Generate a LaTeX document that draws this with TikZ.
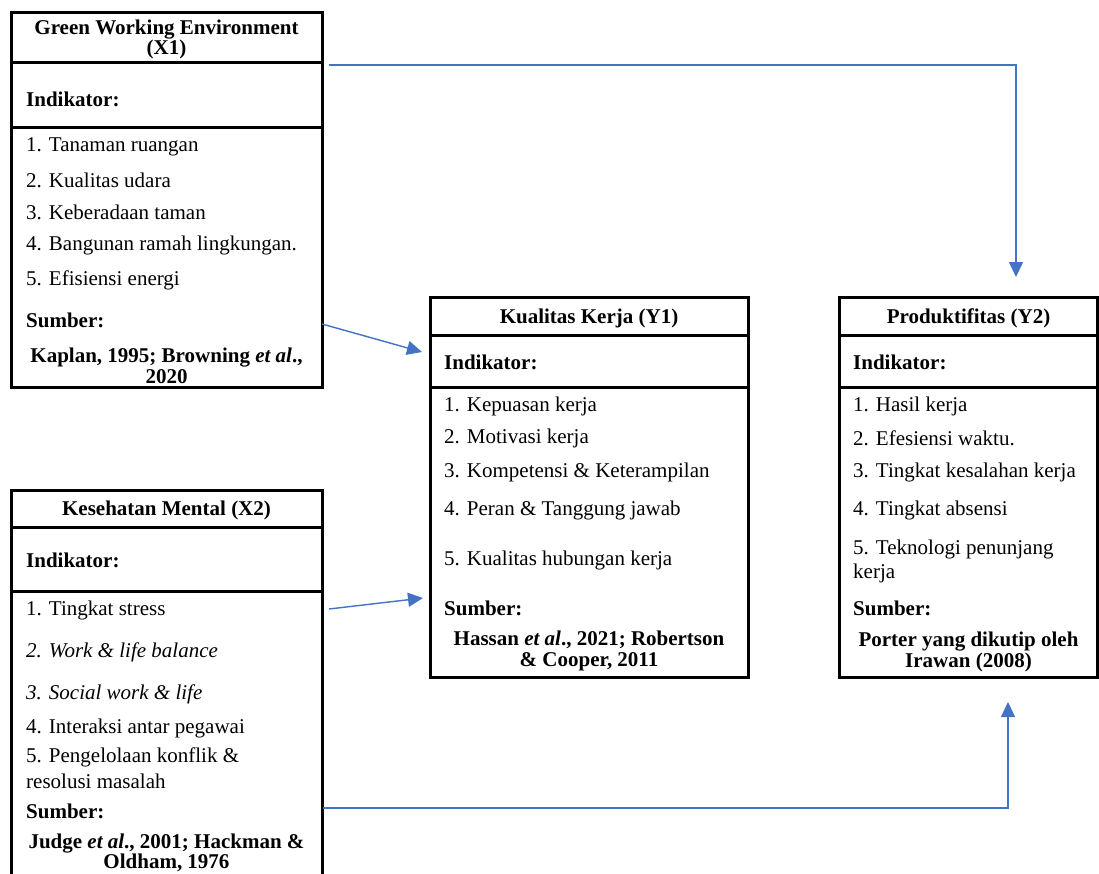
\documentclass[tikz,border=0pt]{standalone}
\usepackage{fontspec}
\setmainfont{Liberation Serif}
\usetikzlibrary{arrows.meta}
\definecolor{linkblue}{RGB}{68,114,196}
\newcommand{\diagfont}{\fontsize{21}{20.5}\selectfont}
\tikzset{
  frame/.style={line width=3pt},
  title/.style={font=\diagfont\bfseries, align=center, inner sep=0pt},
  label/.style={font=\diagfont, anchor=west, inner sep=0pt},
  boldlabel/.style={font=\diagfont\bfseries, anchor=west, inner sep=0pt},
  source/.style={font=\diagfont\bfseries, align=center, inner sep=0pt},
  link/.style={draw=linkblue, line width=1.4pt, -{Triangle[length=15pt,width=14pt]}}
}
\begin{document}
\begin{tikzpicture}[x=1pt,y=-1pt]
  \clip (0,0) rectangle (1099,873);
  \fill[white] (0,0) rectangle (1099,873);

  % Green Working Environment (X1)
  \draw[frame] (11,12) rectangle (322,387);
  \draw[frame] (11,62) -- (322,62);
  \draw[frame] (11,127) -- (322,127);
  \node[title] (x1title) at (166.5,39.5) {Green Working Environment\\(X1)};
  \node[boldlabel] (x1ind) at (26,99) {Indikator:};
  \node[label] (x1i1) at (26,147) {1. Tanaman ruangan};
  \node[label] (x1i2) at (26,180) {2. Kualitas udara};
  \node[label] (x1i3) at (26,212) {3. Keberadaan taman};
  \node[label] (x1i4) at (26,245) {4. Bangunan ramah lingkungan.};
  \node[label] (x1i5) at (26,280) {5. Efisiensi energi};
  \node[boldlabel] (x1sum) at (26,320) {Sumber:};
  \node[source] (x1src) at (166.5,366) {Kaplan, 1995; Browning \textit{et al}.,\\2020};

  % Kesehatan Mental (X2)
  \draw[frame] (11,490) rectangle (322,900);
  \draw[frame] (11,527) -- (322,527);
  \draw[frame] (11,591) -- (322,591);
  \node[title] (x2title) at (166.5,510) {Kesehatan Mental (X2)};
  \node[boldlabel] (x2ind) at (26,560) {Indikator:};
  \node[label] (x2i1) at (26,610) {1. Tingkat stress};
  \node[label] (x2i2) at (26,652) {\itshape 2. Work \& life balance};
  \node[label] (x2i3) at (26,694) {\itshape 3. Social work \& life};
  \node[label] (x2i4) at (26,728) {4. Interaksi antar pegawai};
  \node[label] (x2i5a) at (26,757) {5. Pengelolaan konflik \&};
  \node[label] (x2i5b) at (26,781) {resolusi masalah};
  \node[boldlabel] (x2sum) at (26,811) {Sumber:};
  \node[source] (x2src) at (166.5,853) {Judge \textit{et al}., 2001; Hackman \&\\Oldham, 1976};

  % Kualitas Kerja (Y1)
  \draw[frame] (430,297) rectangle (748,677);
  \draw[frame] (430,335) -- (748,335);
  \draw[frame] (430,387) -- (748,387);
  \node[title] (y1title) at (589,318) {Kualitas Kerja (Y1)};
  \node[boldlabel] (y1ind) at (444,362) {Indikator:};
  \node[label] (y1i1) at (444,406) {1. Kepuasan kerja};
  \node[label] (y1i2) at (444,438) {2. Motivasi kerja};
  \node[label] (y1i3) at (444,472) {3. Kompetensi \& Keterampilan};
  \node[label] (y1i4) at (444,510) {4. Peran \& Tanggung jawab};
  \node[label] (y1i5) at (444,560) {5. Kualitas hubungan kerja};
  \node[boldlabel] (y1sum) at (444,608) {Sumber:};
  \node[source] (y1src) at (589,651) {Hassan \textit{et al}., 2021; Robertson\\\& Cooper, 2011};

  % Produktifitas (Y2)
  \draw[frame] (839,297) rectangle (1097,677);
  \draw[frame] (839,335) -- (1097,335);
  \draw[frame] (839,387) -- (1097,387);
  \node[title] (y2title) at (968.5,318) {Produktifitas (Y2)};
  \node[boldlabel] (y2ind) at (853,362) {Indikator:};
  \node[label] (y2i1) at (853,406) {1. Hasil kerja};
  \node[label] (y2i2) at (853,438) {2. Efesiensi waktu.};
  \node[label] (y2i3) at (853,472) {3. Tingkat kesalahan kerja};
  \node[label] (y2i4) at (853,510) {4. Tingkat absensi};
  \node[label] (y2i5a) at (853,549) {5. Teknologi penunjang};
  \node[label] (y2i5b) at (853,573) {kerja};
  \node[boldlabel] (y2sum) at (853,608) {Sumber:};
  \node[source] (y2src) at (968.5,652) {Porter yang dikutip oleh\\Irawan (2008)};

  % arrows
  \coordinate (x1out) at (329,65);
  \coordinate (y2in) at (1016,277);
  \coordinate (x1low) at (322,324);
  \coordinate (y1in) at (422,352);
  \coordinate (x2out) at (329,609);
  \coordinate (y1low) at (423,598);
  \coordinate (x2low) at (323,808);
  \coordinate (y2low) at (1008,702);
  \draw[link] (x1out) -| (y2in);
  \draw[link] (x1low) -- (y1in);
  \draw[link] (x2out) -- (y1low);
  \draw[link] (x2low) -| (y2low);
\end{tikzpicture}
\end{document}
